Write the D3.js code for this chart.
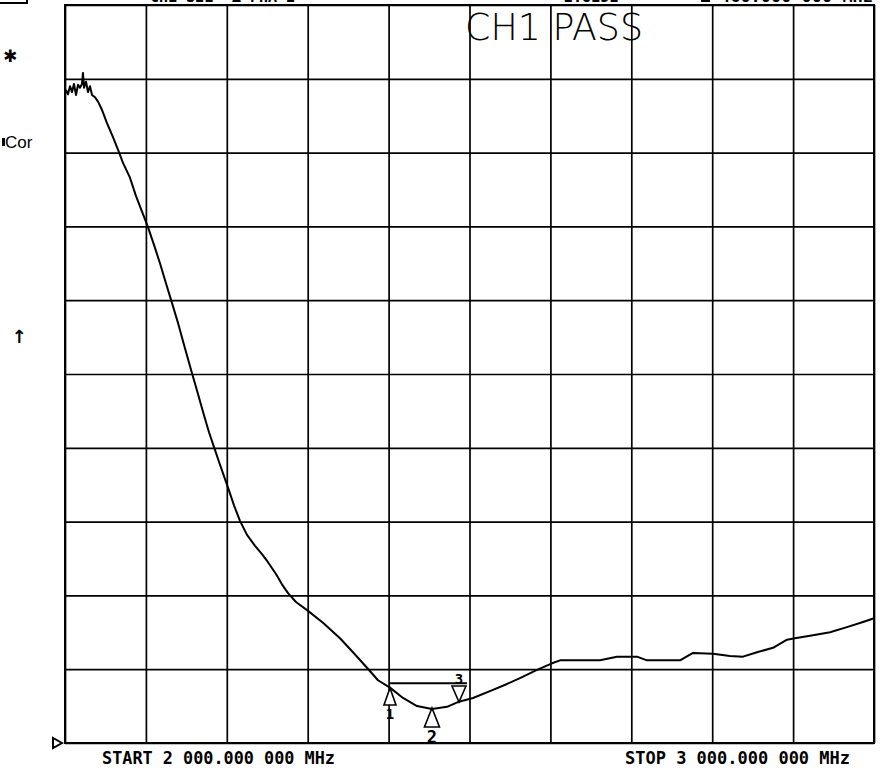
<!DOCTYPE html>
<html>
<head>
<meta charset="utf-8">
<script src="https://cdn.jsdelivr.net/npm/d3@7"></script>
<style>
  html, body { margin: 0; padding: 0; background: #fff; }
  svg { display: block; }
</style>
</head>
<body>
<svg id="chart" width="880" height="772"></svg>
<script>
// Swept frequency (MHz) and trace level (grid divisions above the bottom line)
const traceFreq = [
  2001.2, 2003.7, 2006.2, 2008.7, 2011.1, 2013.6, 2016.1, 2018.5, 2021.0, 2022.2,
  2023.5, 2026.0, 2028.4, 2030.9, 2033.4, 2037.1, 2040.8, 2045.7, 2051.9, 2059.3,
  2065.5, 2071.7, 2080.3, 2087.8, 2095.2, 2102.6, 2110.0, 2117.4, 2124.8, 2132.3,
  2139.7, 2148.3, 2157.0, 2164.4, 2171.8, 2178.0, 2184.2, 2191.6, 2201.5, 2208.9,
  2216.3, 2225.0, 2234.9, 2243.5, 2250.9, 2260.8, 2268.2, 2275.7, 2285.5, 2300.4,
  2318.9, 2339.9, 2356.0, 2373.3, 2386.9, 2401.7, 2417.8, 2435.1, 2453.6, 2472.2,
  2487.0, 2504.3, 2529.0, 2546.4, 2562.4, 2583.4, 2602.0, 2611.9, 2636.6, 2661.3,
  2682.3, 2707.0, 2719.4, 2741.7, 2760.2, 2776.3, 2801.0, 2822.0, 2838.1, 2855.4,
  2875.2, 2892.5, 2902.3, 2924.6, 2945.6, 2966.6, 2986.4, 3000.0
];
const traceLevel = [
  8.85, 8.79, 8.90, 8.82, 8.93, 8.78, 8.92, 8.88, 8.93, 9.08,
  8.88, 8.96, 8.82, 8.90, 8.78, 8.75, 8.69, 8.58, 8.40, 8.21,
  8.04, 7.86, 7.66, 7.41, 7.20, 6.99, 6.75, 6.50, 6.23, 5.96,
  5.69, 5.35, 5.01, 4.73, 4.44, 4.21, 4.01, 3.77, 3.46, 3.22,
  3.01, 2.82, 2.67, 2.56, 2.45, 2.29, 2.15, 2.03, 1.91, 1.79,
  1.63, 1.42, 1.23, 1.02, 0.85, 0.75, 0.61, 0.50, 0.46, 0.49,
  0.56, 0.61, 0.72, 0.80, 0.88, 0.99, 1.08, 1.12, 1.12, 1.12,
  1.17, 1.17, 1.12, 1.12, 1.12, 1.22, 1.21, 1.18, 1.17, 1.23,
  1.29, 1.40, 1.42, 1.46, 1.50, 1.57, 1.64, 1.69
];

// Grid divisions
const freqTicks = [2000, 2100, 2200, 2300, 2400, 2500, 2600, 2700, 2800, 2900, 3000];
const levelTicks = [0, 1, 2, 3, 4, 5, 6, 7, 8, 9, 10];

// Markers: number, frequency, level, pointing direction
const markerNames = ["1", "2", "3"];
const markerFreqs = [2401.7, 2453.6, 2487.0];
const markerLevels = [0.745, 0.474, 0.556];
const markerUp = [true, true, false];
const bandLevel = 0.81;

// Annotation strings
const startLabel = "START 2 000.000 000 MHz";
const stopLabel = "STOP 3 000.000 000 MHz";
const limitLabel = "CH1 PASS";

const svg = d3.select("#chart");
const x = d3.scaleLinear().domain([2000, 3000]).range([65, 874]);
const y = d3.scaleLinear().domain([0, 10]).range([743, 5]);

// Header line running off the top edge
const header = svg.append("g").attr("font-family", "DejaVu Sans Mono").attr("font-size", 15).attr("font-weight", "bold");
svg.append("rect").attr("x", -2).attr("y", -20).attr("width", 29).attr("height", 23)
  .attr("fill", "none").attr("stroke", "#000").attr("stroke-width", 2);
header.append("text").attr("x", 150).attr("y", 2).text("CH1 S21");
header.append("text").attr("x", 232).attr("y", 2).text("Δ PHA 2");
header.append("text").attr("x", 555).attr("y", 2).text("-2.8151");
header.append("rect").attr("x", 701).attr("y", -8).attr("width", 9).attr("height", 10).attr("fill", "#000");
header.append("text").attr("x", 720).attr("y", 2).attr("textLength", 153).attr("lengthAdjust", "spacingAndGlyphs").text("460.000 000 MHz");

// Grid
const grid = svg.append("g").attr("stroke", "#000");
grid.append("g")
  .attr("transform", `translate(0,${y(0)})`)
  .call(d3.axisBottom(x).tickValues(freqTicks).tickSize(y(0) - y(10)).tickSizeOuter(0).tickFormat(""))
  .call(g => g.select(".domain").remove())
  .call(g => g.selectAll(".tick line").attr("transform", `translate(0,${-(y(0) - y(10))})`).attr("stroke", "#000").attr("stroke-width", 1.7));
grid.append("g")
  .attr("transform", `translate(${x(2000)},0)`)
  .call(d3.axisLeft(y).tickValues(levelTicks).tickSize(-(x(3000) - x(2000))).tickSizeOuter(0).tickFormat(""))
  .call(g => g.select(".domain").remove())
  .call(g => g.selectAll(".tick line").attr("stroke", "#000").attr("stroke-width", 1.7));
svg.append("rect")
  .attr("x", x(2000)).attr("y", y(10))
  .attr("width", x(3000) - x(2000)).attr("height", y(0) - y(10))
  .attr("fill", "none").attr("stroke", "#000").attr("stroke-width", 2);

// Limit test result
svg.append("text")
  .attr("x", 465).attr("y", 40)
  .attr("font-family", "DejaVu Sans").attr("font-weight", 200)
  .attr("font-size", 38)
  .attr("textLength", 178).attr("lengthAdjust", "spacingAndGlyphs")
  .text(limitLabel);

// Measured trace
const trace = traceFreq.map((f, i) => [f, traceLevel[i]]);
svg.append("path")
  .datum(trace)
  .attr("fill", "none").attr("stroke", "#000").attr("stroke-width", 2)
  .attr("stroke-linejoin", "round")
  .attr("d", d3.line().x(d => x(d[0])).y(d => y(d[1])));

// Band line from marker 1 across to marker 3
svg.append("line")
  .attr("x1", x(markerFreqs[0])).attr("x2", x(markerFreqs[2]) + 8)
  .attr("y1", y(bandLevel)).attr("y2", y(bandLevel))
  .attr("stroke", "#000").attr("stroke-width", 2);

// Marker triangles and numbers
const sizes = [[12, 17], [15, 19], [14, 16]];
markerNames.forEach((name, i) => {
  const mx = x(markerFreqs[i]), my = y(markerLevels[i]);
  const [w, h] = sizes[i];
  const dir = markerUp[i] ? 1 : -1;
  const p = d3.path();
  p.moveTo(mx, my);
  p.lineTo(mx - w / 2, my + dir * h);
  p.lineTo(mx + w / 2, my + dir * h);
  p.closePath();
  svg.append("path").attr("d", p.toString())
    .attr("fill", "#fff").attr("stroke", "#000").attr("stroke-width", 1.6);
  svg.append("text")
    .attr("x", mx).attr("y", markerUp[i] ? my + h + (i === 0 ? 14 : 16) : my - h - 2)
    .attr("text-anchor", "middle")
    .attr("font-family", "DejaVu Sans Mono").attr("font-weight", "bold")
    .attr("font-size", i === 1 ? 17 : 14)
    .text(name);
});

// Reference position pointer on the left edge
const ref = d3.path();
ref.moveTo(62, y(0)); ref.lineTo(53, y(0) - 5); ref.lineTo(53, y(0) + 5); ref.closePath();
svg.append("path").attr("d", ref.toString()).attr("fill", "#fff").attr("stroke", "#000").attr("stroke-width", 2);

// Left annotations
svg.append("text").attr("x", 3).attr("y", 62).attr("font-family", "DejaVu Sans").attr("font-weight", "bold").attr("font-size", 17).text("✱");
svg.append("rect").attr("x", 2).attr("y", 138).attr("width", 3).attr("height", 8).attr("fill", "#000");
svg.append("text").attr("x", 5).attr("y", 148).attr("font-family", "Liberation Sans").attr("font-size", 17).text("Cor");
svg.append("text").attr("x", 19).attr("y", 343).attr("text-anchor", "middle").attr("font-family", "DejaVu Sans").attr("font-weight", "bold").attr("font-size", 18).text("↑");

// Sweep limits
const foot = svg.append("g").attr("font-family", "DejaVu Sans Mono").attr("font-weight", "bold").attr("font-size", 16.8);
foot.append("text").attr("x", 102).attr("y", 764).attr("textLength", 233).attr("lengthAdjust", "spacingAndGlyphs").text(startLabel);
foot.append("text").attr("x", 625).attr("y", 764).attr("textLength", 225).attr("lengthAdjust", "spacingAndGlyphs").text(stopLabel);
</script>
</body>
</html>
